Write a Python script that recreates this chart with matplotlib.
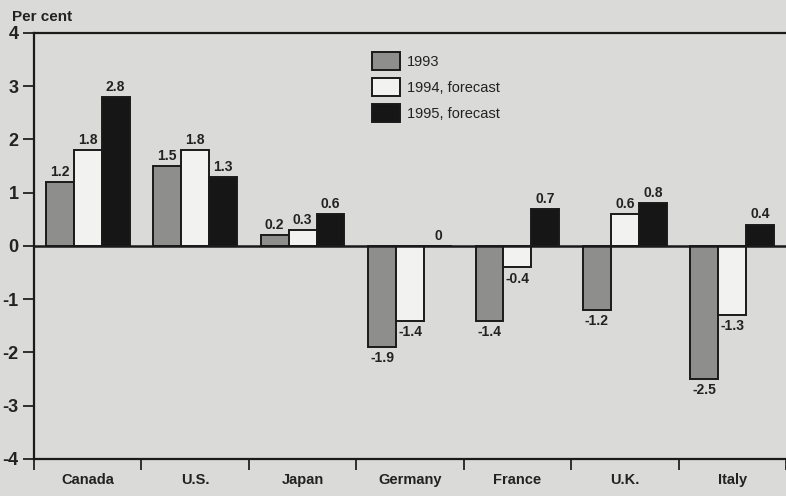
import numpy as np
import matplotlib.pyplot as plt

countries = ['Canada', 'U.S.', 'Japan', 'Germany', 'France', 'U.K.', 'Italy']
infl_1993 = [1.2, 1.5, 0.2, -1.9, -1.4, -1.2, -2.5]
infl_1994 = [1.8, 1.8, 0.3, -1.4, -0.4, 0.6, -1.3]
infl_1995 = [2.8, 1.3, 0.6, 0.0, 0.7, 0.8, 0.4]
series_names = ['1993', '1994, forecast', '1995, forecast']
yticks = [-4, -3, -2, -1, 0, 1, 2, 3, 4]

FONT = ['Liberation Sans Narrow', 'Liberation Sans', 'DejaVu Sans']
plt.rcParams['font.family'] = FONT
plt.rcParams['font.weight'] = 'bold'

bg = '#dadad8'
fig = plt.figure(figsize=(7.86, 4.96), dpi=100, facecolor=bg)
ax = fig.add_axes([0.0433, 0.0746, 0.9567, 0.8589])
ax.set_facecolor(bg)

x = np.arange(len(countries))
w = 0.26
colors = ['#8e8e8c', '#f2f2f0', '#161616']
for i, (vals, name, c) in enumerate(zip([infl_1993, infl_1994, infl_1995], series_names, colors)):
    pos = x + (i - 1) * w
    ax.bar(pos, vals, width=w, color=c, edgecolor='#1a1a1a', linewidth=1.4,
           label=name, zorder=2)
    for px, v in zip(pos, vals):
        txt = f'{v:g}'
        if v >= 0:
            ax.text(px, v + 0.06, txt, ha='center', va='bottom', fontsize=10,
                    fontweight='bold', color='#222222')
        else:
            ax.text(px, v - 0.08, txt, ha='center', va='top', fontsize=10,
                    fontweight='bold', color='#222222')

ax.axhline(0, color='#1a1a1a', linewidth=1.8, zorder=3)

ax.set_xlim(-0.5, len(countries) - 0.5)
ax.set_ylim(-4, 4)
ax.set_yticks(yticks)
ax.set_yticklabels([str(t) for t in yticks], fontsize=13, fontweight='bold', color='#222222')
ax.set_xticks(np.arange(len(countries) + 1) - 0.5)
ax.set_xticklabels([])
ax.set_xticks(x, minor=True)
ax.set_xticklabels(countries, minor=True, fontsize=10.5, fontweight='bold', color='#222222')
ax.tick_params(axis='x', which='minor', length=0, pad=10)
ax.tick_params(axis='x', which='major', length=8, width=1.3, color='#222222')
ax.tick_params(axis='y', length=8, width=1.3, color='#222222', pad=3)

for side in ['left', 'top', 'bottom']:
    ax.spines[side].set_linewidth(1.6)
    ax.spines[side].set_color('#1a1a1a')
ax.spines['right'].set_visible(False)

fig.text(0.015, 0.965, 'Per cent', fontsize=11, fontweight='bold', color='#222222',
         va='center', ha='left')

leg = ax.legend(loc='upper left', bbox_to_anchor=(0.442, 0.97), frameon=False,
                fontsize=10.5, handlelength=1.9, handleheight=1.6,
                labelspacing=0.5, handletextpad=0.45, borderaxespad=0)
for t in leg.get_texts():
    t.set_color('#222222')
    t.set_fontweight('normal')

fig.savefig('out.png', dpi=100, facecolor=bg)
